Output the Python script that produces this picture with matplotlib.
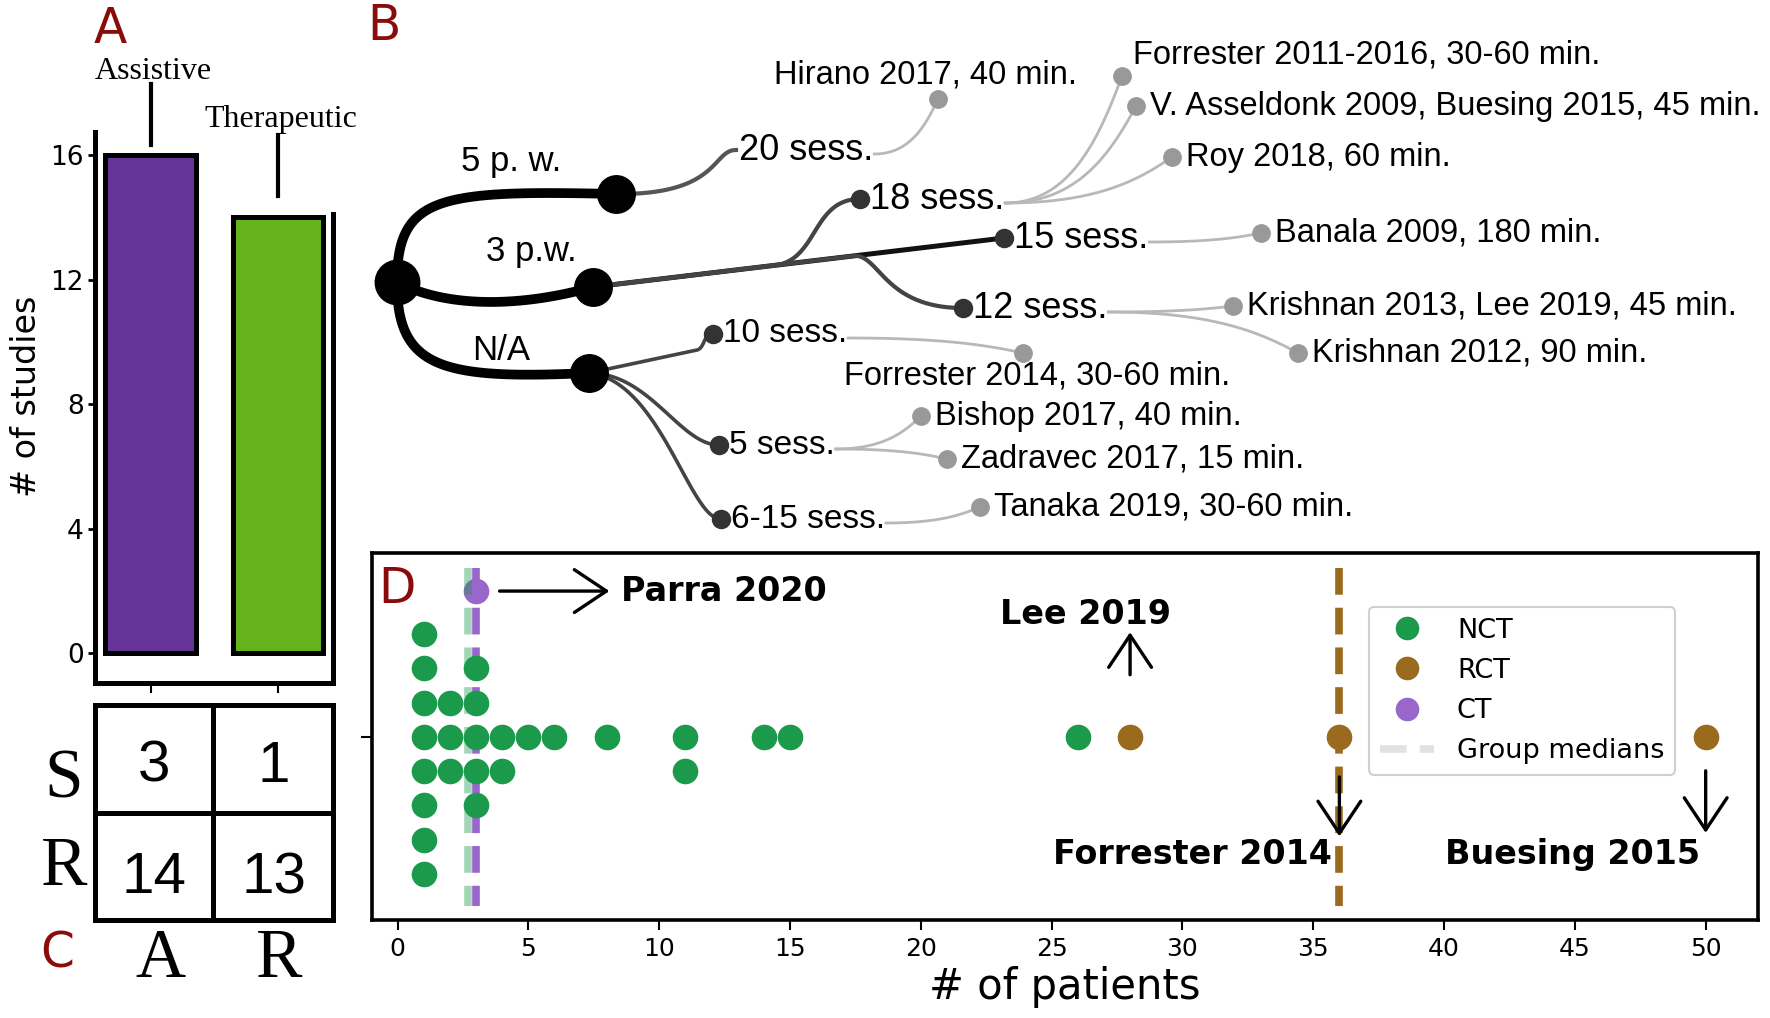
import numpy as np
import matplotlib
matplotlib.use("Agg")
import matplotlib.pyplot as plt
from matplotlib.lines import Line2D

W, H = 1770, 1018
DARK_RED = "#8b0a0a"

# ---- panel A: study type
bar_labels = ["Assistive", "Therapeutic"]
bar_counts = [16, 14]
bar_colors = ["#663399", "#66b21d"]

# ---- panel C: table
table_rows = ["S", "R"]
table_cols = ["A", "R"]
table_counts = [[3, 1], [14, 13]]

# ---- panel B: protocol tree
frequency = ["5 p. w.", "3 p.w.", "N/A"]
sessions = [["20 sess."],
            ["18 sess.", "15 sess.", "12 sess."],
            ["10 sess.", "5 sess.", "6-15 sess."]]
studies = {
    "20 sess.": ["Hirano 2017, 40 min."],
    "18 sess.": ["Forrester 2011-2016, 30-60 min.",
                 "V. Asseldonk 2009, Buesing 2015, 45 min.",
                 "Roy 2018, 60 min."],
    "15 sess.": ["Banala 2009, 180 min."],
    "12 sess.": ["Krishnan 2013, Lee 2019, 45 min.", "Krishnan 2012, 90 min."],
    "10 sess.": ["Forrester 2014, 30-60 min."],
    "5 sess.": ["Bishop 2017, 40 min.", "Zadravec 2017, 15 min."],
    "6-15 sess.": ["Tanaka 2019, 30-60 min."],
}

# ---- panel D: number of patients per study
nct_patients = [1, 1, 1, 1, 1, 1, 1, 1, 2, 2, 2, 3, 3, 3, 3, 3, 4, 4,
                5, 6, 8, 11, 11, 14, 15, 26]
rct_patients = [28, 36, 50]
ct_patients = [3]
group_names = ["NCT", "RCT", "CT"]
group_medians = [2.7, 36, 3]
group_colors = ["#1b9a4c", "#9a6a1e", "#9966cc"]

# tree layout in figure pixels (x right, y down)
ROOT = (397, 282)
freq_xy = {"5 p. w.": (616, 194), "3 p.w.": (593, 287), "N/A": (589, 373)}
freq_label_xy = {"5 p. w.": (511, 161), "3 p.w.": (531, 251), "N/A": (501, 350)}
sess_xy = {"20 sess.": (736, 150), "18 sess.": (860, 199), "15 sess.": (1004, 238),
           "12 sess.": (963, 308), "10 sess.": (713, 334), "5 sess.": (719, 445),
           "6-15 sess.": (721, 519)}
leaf_xy = {
    "Hirano 2017, 40 min.": (938, 99),
    "Forrester 2011-2016, 30-60 min.": (1122, 76),
    "V. Asseldonk 2009, Buesing 2015, 45 min.": (1136, 106),
    "Roy 2018, 60 min.": (1172, 157),
    "Banala 2009, 180 min.": (1261, 233),
    "Krishnan 2013, Lee 2019, 45 min.": (1233, 306),
    "Krishnan 2012, 90 min.": (1298, 353),
    "Forrester 2014, 30-60 min.": (1023, 353),
    "Bishop 2017, 40 min.": (921, 416),
    "Zadravec 2017, 15 min.": (947, 459),
    "Tanaka 2019, 30-60 min.": (980, 507),
}
leaf_label_special = {
    "Hirano 2017, 40 min.": (925, 75, "center"),
    "Forrester 2011-2016, 30-60 min.": (1133, 55, "left"),
    "Forrester 2014, 30-60 min.": (1037, 376, "center"),
}


def bez(p0, p1, p2, p3, n=80):
    t = np.linspace(0, 1, n)[:, None]
    p0, p1, p2, p3 = map(np.asarray, (p0, p1, p2, p3))
    pts = (1 - t) ** 3 * p0 + 3 * (1 - t) ** 2 * t * p1 + 3 * (1 - t) * t ** 2 * p2 + t ** 3 * p3
    return pts[:, 0], pts[:, 1]


def stack_offsets(values, seen):
    out = []
    for v in values:
        k = seen.get(v, 0)
        seen[v] = k + 1
        out.append((k + 1) // 2 * (1 if k % 2 else -1))
    return out


fig = plt.figure(figsize=(W / 100, H / 100), dpi=100)
sans = "Liberation Sans"
serif = "Liberation Serif"

# ================= panel A
ax_a = fig.add_axes([95 / W, 1 - 683 / H, 238 / W, 551 / H])
xa = np.arange(len(bar_labels))
ax_a.bar(xa, bar_counts, width=0.71, color=bar_colors, edgecolor="black", linewidth=3.6)
ax_a.set_xlim(-0.435, 1.43)
ax_a.set_ylim(-0.96, 16.74)
ax_a.set_yticks([0, 4, 8, 12, 16])
ax_a.set_xticks(xa)
ax_a.set_xticklabels([])
ax_a.tick_params(axis="y", labelsize=19, length=5, width=2, pad=3)
ax_a.tick_params(axis="x", length=7, width=1.5)
for s in ["left", "bottom", "right"]:
    ax_a.spines[s].set_linewidth(3.6)
ax_a.spines["top"].set_visible(False)
ax_a.spines["right"].set_bounds(-0.96, 14.1)
ax_a.set_ylabel("# of studies", fontsize=24)
ax_a.yaxis.set_label_coords(-0.22, 0.52)
line_gap = [0.32, 0.68]
text_gap = [2.35, 2.45]
for i, (lab, c) in enumerate(zip(bar_labels, bar_counts)):
    y0 = c + line_gap[i]
    ax_a.plot([i, i], [y0, y0 + 1.95], color="black", lw=3, clip_on=False)
    ax_a.text(i + 0.02, y0 + text_gap[i], lab, ha="center", va="center", fontsize=23,
              family=serif, clip_on=False)

# ================= panel C
ax_c = fig.add_axes([95 / W, 1 - 920 / H, 238 / W, 215 / H])
ax_c.set_xlim(0, 2)
ax_c.set_ylim(2, 0)
ax_c.set_xticks([])
ax_c.set_yticks([])
for s in ax_c.spines.values():
    s.set_linewidth(3.6)
ax_c.axvline(0.99, color="black", lw=3.6)
ax_c.axhline(1.0, color="black", lw=3.6)
num_base = [0.716, 1.749]
for i, row in enumerate(table_counts):
    for j, v in enumerate(row):
        ax_c.text(j + 0.5, num_base[i], str(v), ha="center", va="baseline",
                  fontsize=42, family=sans)
row_base = [0.856, 1.674]
for i, r in enumerate(table_rows):
    ax_c.text(-0.26, row_base[i], r, ha="center", va="baseline", fontsize=50,
              family=serif, clip_on=False)
for j, c in enumerate(table_cols):
    ax_c.text(j + 0.55, 2.53, c, ha="center", va="baseline", fontsize=50,
              family=serif, clip_on=False)

# ================= panel D
ax_d = fig.add_axes([372 / W, 1 - 920 / H, 1386 / W, 367 / H])
seen = {}
groups = [nct_patients, rct_patients]
for vals, col in zip(groups, group_colors[:2]):
    ax_d.scatter(vals, stack_offsets(vals, seen), s=340, color=col,
                 linewidths=0, zorder=4)
CT_ROW = -4.25
ax_d.scatter(ct_patients, [CT_ROW] * len(ct_patients), s=340,
             color=group_colors[2], linewidths=0, zorder=2)
med_alpha = [0.4, 1, 1]
for m, col, a in zip(group_medians, group_colors, med_alpha):
    ax_d.plot([m, m], [-4.93, 4.93], color=col, alpha=a, lw=5.5,
              dashes=(3.5, 1.7), zorder=3)
ax_d.set_xlim(-0.975, 52.0)
ax_d.set_ylim(5.34, -5.36)
ax_d.set_xticks(np.arange(0, 51, 5))
ax_d.set_yticks([0])
ax_d.set_yticklabels([])
ax_d.tick_params(axis="x", labelsize=18, length=7, width=1.5, pad=5)
ax_d.tick_params(axis="y", length=8, width=1.5)
for s in ax_d.spines.values():
    s.set_linewidth(2.6)
ax_d.set_xlabel("# of patients", fontsize=30, labelpad=4)

arrow_kw = dict(arrowstyle="->, head_length=0.42, head_width=0.28", lw=2.4,
                color="black", mutation_scale=55, shrinkA=0, shrinkB=0)
ax_d.annotate("", xy=(8.1, CT_ROW), xytext=(3.9, CT_ROW), arrowprops=arrow_kw)
ax_d.text(8.55, CT_ROW, "Parra 2020", fontsize=24, weight="bold", ha="left", va="center")
ax_d.annotate("", xy=(28, -3.05), xytext=(28, -1.81), arrowprops=arrow_kw)
ax_d.text(26.3, -3.56, "Lee 2019", fontsize=24, weight="bold", ha="center", va="center")
ax_d.annotate("", xy=(36, 2.9), xytext=(36, 1.17), arrowprops=arrow_kw, zorder=5)
ax_d.text(35.7, 3.44, "Forrester 2014", fontsize=24, weight="bold", ha="right", va="center")
ax_d.annotate("", xy=(50, 2.8), xytext=(50, 0.99), arrowprops=arrow_kw)
ax_d.text(44.9, 3.44, "Buesing 2015", fontsize=24, weight="bold", ha="center", va="center")

handles = [Line2D([0], [0], marker="o", ls="none", ms=17, color=c, mec="none")
           for c in group_colors]
handles.append(Line2D([0], [0], color="#e2e2e2", lw=5.5, dashes=(3.5, 1.7)))
leg = ax_d.legend(handles, group_names + ["Group medians"], loc="upper left",
                  bbox_to_anchor=(0.7193, 0.8529), borderaxespad=0, fontsize=19.5,
                  handlelength=2.0, handletextpad=0.85, labelspacing=0.52,
                  borderpad=0.4, framealpha=1)
leg.get_frame().set_edgecolor("#d0d0d0")
leg.get_frame().set_linewidth(1.5)

# ================= panel B (overlay in pixel coords)
ax_o = fig.add_axes([0, 0, 1, 1], zorder=10)
ax_o.set_xlim(0, W)
ax_o.set_ylim(H, 0)
ax_o.axis("off")
ax_o.patch.set_alpha(0)

# root -> frequency
root_ctrl = {"5 p. w.": ((397, 195), (440, 190)),
             "3 p.w.": ((440, 305), (510, 310)),
             "N/A": ((397, 368), (440, 380))}
for f in frequency:
    c1, c2 = root_ctrl[f]
    ax_o.plot(*bez(ROOT, c1, c2, freq_xy[f]), color="black", lw=7, solid_capstyle="round", zorder=1)

# frequency -> sessions
p = freq_xy["5 p. w."]
ax_o.plot(*bez(p, (720, 195), (712, 150), sess_xy["20 sess."]), color="#555555", lw=3, zorder=1)
p = freq_xy["3 p.w."]
q = sess_xy["15 sess."]
ax_o.plot([p[0], q[0]], [p[1], q[1]], color="#111111", lw=3.6, zorder=1)


def on_line(x):
    return p[1] + (q[1] - p[1]) * (x - p[0]) / (q[0] - p[0])


for key, xs, c1, c2 in [("18 sess.", 775, (818, 260), (812, 199)),
                        ("12 sess.", 855, (880, 256), (885, 308))]:
    ys = on_line(xs)
    bx, by = bez((xs, ys), c1, c2, sess_xy[key])
    ax_o.plot(np.r_[p[0], bx], np.r_[p[1], by], color="#444444", lw=3, zorder=1)
p = freq_xy["N/A"]
bx, by = bez((697, 350), (705, 348), (703, 334), sess_xy["10 sess."])
ax_o.plot(np.r_[p[0], bx], np.r_[p[1], by], color="#444444", lw=2.6, zorder=1)
ax_o.plot(*bez(p, (650, 373), (680, 445), sess_xy["5 sess."]), color="#444444", lw=2.6, zorder=1)
ax_o.plot(*bez(p, (660, 380), (690, 520), sess_xy["6-15 sess."]), color="#444444", lw=2.6, zorder=1)

# nodes
ax_o.plot(*ROOT, "o", color="black", ms=32, zorder=2)
for f in frequency:
    ax_o.plot(*freq_xy[f], "o", color="black", ms=27, zorder=2)
    ax_o.text(*freq_label_xy[f], f, fontsize=25, family=sans, ha="center", va="center", zorder=3)

renderer = fig.canvas.get_renderer()
for grp in sessions:
    for s in grp:
        x, y = sess_xy[s]
        if s != "20 sess.":
            ax_o.plot(x, y, "o", color="#333333", ms=13, zorder=2)
            tx = x + 10
        else:
            tx = x + 3
        size = 24 if grp is sessions[2] else 26
        t = ax_o.text(tx, y, s, fontsize=size, family=sans, ha="left", va="center", zorder=3)
        bb = t.get_window_extent(renderer=renderer)
        start = (bb.x1 + 1, y + 4)
        for leaf in studies[s]:
            lx, ly = leaf_xy[leaf]
            dx, dy = lx - start[0], ly - start[1]
            c1 = (start[0] + 0.55 * dx, start[1])
            c2 = (lx - 0.2 * dx, ly - 0.5 * dy)
            ax_o.plot(*bez(start, c1, c2, (lx, ly)), color="#b8b8b8", lw=2, zorder=1)
            ax_o.plot(lx, ly, "o", color="#999999", ms=12.5, zorder=2)
            if leaf in leaf_label_special:
                tx2, ty2, ha = leaf_label_special[leaf]
            else:
                tx2, ty2, ha = lx + 14, ly, "left"
            ax_o.text(tx2, ty2, leaf, fontsize=23.5, family=sans, ha=ha, va="center", zorder=3)

# panel letters
for letter, x, y in [("A", 94, 43), ("B", 367, 40), ("C", 40, 968), ("D", 378, 603)]:
    ax_o.text(x, y, letter, fontsize=35, color=DARK_RED, ha="left", va="baseline", zorder=3)

fig.savefig("out.png", dpi=100)
